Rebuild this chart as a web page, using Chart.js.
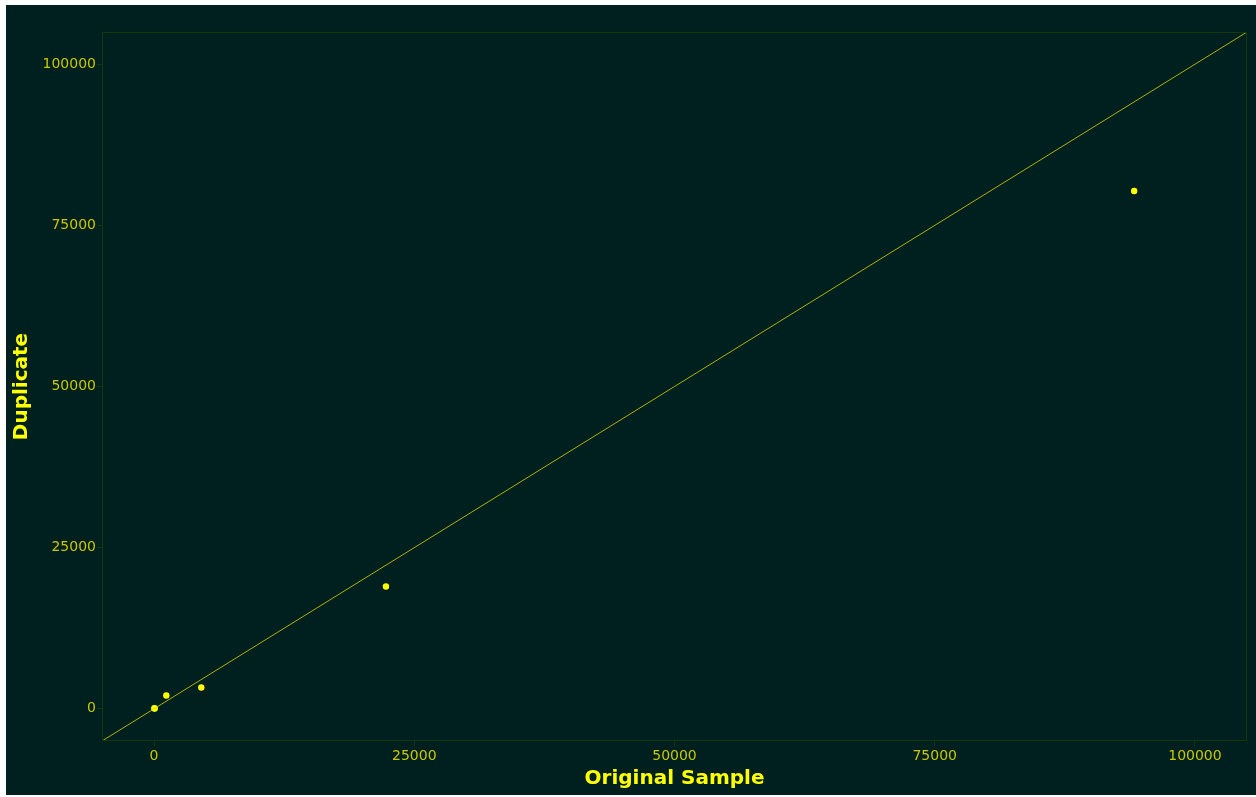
<!DOCTYPE html>
<html>
<head>
<meta charset="utf-8">
<title>Original vs Duplicate</title>
<script src="https://cdn.jsdelivr.net/npm/chart.js@4/dist/chart.umd.min.js"></script>
<style>
  html, body { margin: 0; padding: 0; background: #ffffff; }
  #wrap {
    position: absolute;
    left: 6px;
    top: 5px;
    width: 1250px;
    height: 790px;
    background: #002020;
  }
</style>
</head>
<body>
<div id="wrap"><canvas id="dupChart" width="1250" height="790"></canvas></div>
<script>
// sample pairs: original result vs duplicate result
const originalValues = [30, 60, 1180, 4540, 22280, 94160];
const duplicateValues = [90, 40, 2070, 3310, 18960, 80330];

// 1:1 reference line and axis limits
const axisMin = -5000;
const axisMax = 105000;
const tickValues = [0, 25000, 50000, 75000, 100000];

const yellow = '#ffff00';
const tickYellow = '#c8c800';
const frameGreen = '#0c3a0c';

// outline the whole plot panel, not only the two axis lines
const panelFrame = {
  id: 'panelFrame',
  afterDraw(chart) {
    const { ctx, chartArea: a } = chart;
    ctx.save();
    ctx.strokeStyle = frameGreen;
    ctx.lineWidth = 1;
    ctx.strokeRect(a.left + 0.5, a.top + 0.5, a.right - a.left - 1, a.bottom - a.top - 1);
    ctx.restore();
  }
};

const points = originalValues.map((x, i) => ({ x, y: duplicateValues[i] }));

const axisCommon = (title, isX) => ({
  type: 'linear',
  min: axisMin,
  max: axisMax,
  afterBuildTicks: scale => { scale.ticks = tickValues.map(v => ({ value: v })); },
  afterFit: scale => {
    if (isX) scale.height = 54; else scale.width = 96;
  },
  grid: {
    drawOnChartArea: false,
    drawTicks: true,
    tickLength: 5,
    color: frameGreen
  },
  border: { display: false },
  ticks: {
    color: tickYellow,
    padding: isX ? 2 : 1,
    maxRotation: 0,
    autoSkip: false,
    font: { family: 'DejaVu Sans', size: 14 },
    callback: v => String(v)
  },
  title: {
    display: true,
    text: title,
    color: yellow,
    padding: { top: 4, bottom: 4 },
    font: { family: 'DejaVu Sans', size: 20, weight: 'bold' }
  }
});

new Chart(document.getElementById('dupChart').getContext('2d'), {
  type: 'scatter',
  data: {
    datasets: [
      {
        type: 'line',
        label: '1:1',
        data: [{ x: axisMin, y: axisMin }, { x: axisMax, y: axisMax }],
        borderColor: 'rgba(215, 215, 0, 0.8)',
        borderWidth: 1,
        pointRadius: 0,
        fill: false
      },
      {
        label: 'Samples',
        data: points,
        backgroundColor: yellow,
        borderColor: yellow,
        borderWidth: 0,
        pointRadius: 3.2
      }
    ]
  },
  options: {
    responsive: false,
    animation: false,
    layout: { padding: { left: 0, top: 27, right: 9, bottom: 0 } },
    scales: {
      x: axisCommon('Original Sample', true),
      y: axisCommon('Duplicate', false)
    },
    plugins: {
      legend: { display: false },
      tooltip: { enabled: false }
    }
  },
  plugins: [panelFrame]
});
</script>
</body>
</html>
